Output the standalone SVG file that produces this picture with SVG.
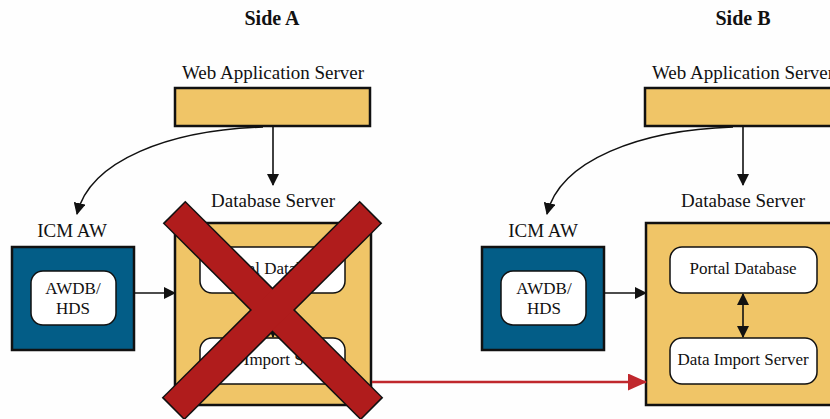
<svg xmlns="http://www.w3.org/2000/svg" width="830" height="419" viewBox="0 0 830 419">
<defs>
<style>
text{font-family:"Liberation Serif","Times New Roman",serif;fill:#111;text-anchor:middle}
.side{font-weight:bold;font-size:20px}
.lbl{font-size:19px}
.in{font-size:17px}
.gold{fill:#F0C567;stroke:#111;stroke-width:2.5}
.blue{fill:#035D87;stroke:#111;stroke-width:2.5}
.inner{fill:#fff;stroke:#111;stroke-width:1.5}
.conn{fill:none;stroke:#111;stroke-width:1.6}
.red{fill:none;stroke:#C0282D;stroke-width:2.5}
</style>
<marker id="ah" markerUnits="userSpaceOnUse" markerWidth="12" markerHeight="12" viewBox="0 0 12 12" refX="11" refY="6" orient="auto-start-reverse">
<path d="M0,0 L12,6 L0,12 Z" fill="#111"/>
</marker>
<marker id="rah" markerUnits="userSpaceOnUse" markerWidth="19" markerHeight="17" viewBox="0 0 19 17" refX="18" refY="8.5" orient="auto">
<path d="M0,0 L19,8.5 L0,17 Z" fill="#C0282D"/>
</marker>
</defs>
<rect width="830" height="419" fill="#fefefe"/>
<text class="side" x="272" y="25">Side A</text>
<text class="side" x="743" y="25">Side B</text>

<g id="webA">
<text class="lbl" x="273" y="79">Web Application Server</text>
<rect class="gold" x="175" y="88" width="195" height="38"/>
</g>
<g id="icmA">
<text class="lbl" x="72" y="237">ICM AW</text>
<rect class="blue" x="12" y="247" width="122" height="103"/>
<rect class="inner" x="31" y="271" width="85" height="54" rx="12"/>
<text class="in" x="73" y="294">AWDB/</text>
<text class="in" x="73" y="314">HDS</text>
</g>
<g id="dbA">
<text class="lbl" x="273" y="207">Database Server</text>
<rect class="gold" x="175" y="223" width="196" height="182"/>
<rect class="inner" x="200" y="247" width="145" height="46" rx="12"/>
<text class="in" x="273" y="274">Portal Database</text>
<rect class="inner" x="200" y="338" width="145" height="46" rx="12"/>
<text class="in" x="273" y="365">Data Import Server</text>
</g>

<g id="webB">
<text class="lbl" x="743" y="79">Web Application Server</text>
<rect class="gold" x="645" y="88" width="195" height="38"/>
</g>
<g id="icmB">
<text class="lbl" x="543" y="237">ICM AW</text>
<rect class="blue" x="482" y="247" width="122" height="103"/>
<rect class="inner" x="501" y="271" width="85" height="54" rx="12"/>
<text class="in" x="544" y="294">AWDB/</text>
<text class="in" x="544" y="314">HDS</text>
</g>
<g id="dbB">
<text class="lbl" x="743" y="207">Database Server</text>
<rect class="gold" x="646" y="223" width="196" height="182"/>
<rect class="inner" x="670" y="247" width="147" height="46" rx="12"/>
<text class="in" x="743" y="274">Portal Database</text>
<rect class="inner" x="670" y="338" width="147" height="46" rx="12"/>
<text class="in" x="743" y="365">Data Import Server</text>
</g>

<g id="connectors">
<path class="conn" d="M273,127 L273,185" marker-end="url(#ah)"/>
<path class="conn" d="M263,127 C170,130 90,160 77,214" marker-end="url(#ah)"/>
<path class="conn" d="M134,293 L175,293" marker-end="url(#ah)"/>
<path class="conn" d="M273,294 L273,337" marker-start="url(#ah)" marker-end="url(#ah)"/>
<path class="conn" d="M743,127 L743,185" marker-end="url(#ah)"/>
<path class="conn" d="M733,127 C640,130 560,160 547,214" marker-end="url(#ah)"/>
<path class="conn" d="M604,293 L646,293" marker-end="url(#ah)"/>
<path class="conn" d="M743,294 L743,337" marker-start="url(#ah)" marker-end="url(#ah)"/>
<path class="red" d="M372,382 L646,382" marker-end="url(#rah)"/>
</g>

<g id="cross">
<line x1="174" y1="212" x2="372" y2="409" stroke="#111" stroke-width="32"/>
<line x1="371" y1="212" x2="173" y2="409" stroke="#111" stroke-width="32"/>
<line x1="175.1" y1="213.1" x2="370.9" y2="407.9" stroke="#B01C1C" stroke-width="29"/>
<line x1="369.9" y1="213.1" x2="174.1" y2="407.9" stroke="#B01C1C" stroke-width="29"/>
</g>
</svg>
